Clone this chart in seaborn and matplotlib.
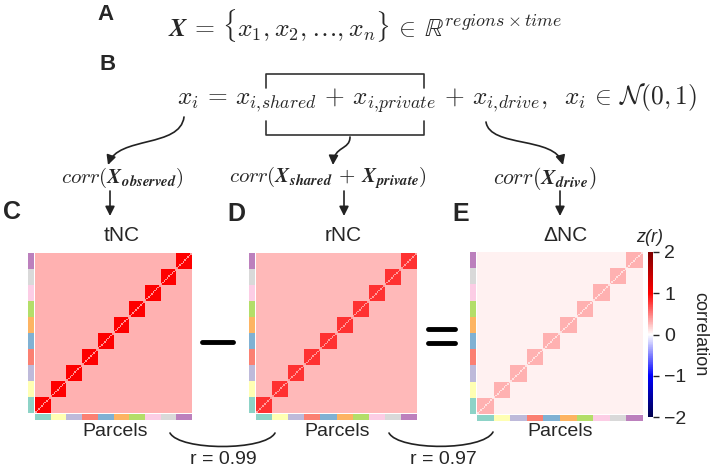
import numpy as np
import matplotlib
matplotlib.use('Agg')
import matplotlib.pyplot as plt
import seaborn as sns
from matplotlib.colors import ListedColormap
from matplotlib.patches import FancyArrowPatch
from matplotlib.path import Path
from matplotlib.lines import Line2D

sns.set_style('white')
plt.rcParams['font.family'] = ['Liberation Sans', 'DejaVu Sans']
plt.rcParams['mathtext.fontset'] = 'cm'

# data: 10 networks, 10 parcels each
n_networks = 10
parcels_per_network = 10
panels = ['tNC', 'rNC', '\u0394NC']
within_block = [1.0, 0.80, 0.30]
between_block = [0.30, 0.27, 0.05]
diagonal = [0.40, 0.38, 0.12]
cbar_ticks = [-2, -1, 0, 1, 2]
r_labels = ['r = 0.99', 'r = 0.97']

W, H = 714, 470
fig = plt.figure(figsize=(W / 100, H / 100), dpi=100)


def fx(x):
    return x / W


def fy(y):
    return 1 - y / H


def box(x0, y0, x1, y1):
    return [fx(x0), fy(y1), fx(x1) - fx(x0), fy(y0) - fy(y1)]


n = n_networks * parcels_per_network
block = np.kron(np.eye(n_networks), np.ones((parcels_per_network, parcels_per_network)))
net_idx = np.repeat(np.arange(n_networks), parcels_per_network)
net_cmap = ListedColormap(sns.color_palette('Set3', n_networks))

# matrix boxes (pixels): left, top, right, bottom
mat_boxes = [(35, 253, 192, 413), (256, 253, 417, 413), (477, 252, 643, 414)]

for k, (x0, y0, x1, y1) in enumerate(mat_boxes):
    M = between_block[k] + (within_block[k] - between_block[k]) * block
    np.fill_diagonal(M, diagonal[k])
    ax = fig.add_axes(box(x0, y0, x1, y1))
    if k == 2:
        cax = fig.add_axes(box(648, 252, 653, 417))
        sns.heatmap(M, ax=ax, cmap='seismic', vmin=-2, vmax=2, cbar=True, cbar_ax=cax,
                    xticklabels=False, yticklabels=False, rasterized=True)
        cb = ax.collections[0].colorbar
        cb.set_ticks(cbar_ticks)
        cb.outline.set_visible(False)
        cax.tick_params(labelsize=14, length=4, width=1, pad=4)
        cb.set_label('correlation', rotation=270, fontsize=13, labelpad=16)
    else:
        sns.heatmap(M, ax=ax, cmap='seismic', vmin=-2, vmax=2, cbar=False,
                    xticklabels=False, yticklabels=False, rasterized=True)
    ax.invert_yaxis()

    # network colour strips
    lax = fig.add_axes(box(x0 - 7, y0, x0 - 1, y1))
    sns.heatmap(net_idx.reshape(-1, 1), ax=lax, cmap=net_cmap, cbar=False,
                xticklabels=False, yticklabels=False, vmin=-0.5, vmax=n_networks - 0.5)
    lax.invert_yaxis()
    bax = fig.add_axes(box(x0, y1 + 1, x1, y1 + 7))
    sns.heatmap(net_idx.reshape(1, -1), ax=bax, cmap=net_cmap, cbar=False,
                xticklabels=False, yticklabels=False, vmin=-0.5, vmax=n_networks - 0.5)

# titles, panel letters, axis labels
title_x = [122, 343, 566]
for k, t in enumerate(panels):
    fig.text(fx(title_x[k]), fy(236), t, ha='center', va='center', fontsize=15)
parcel_x = [115, 337, 560]
for px in parcel_x:
    fig.text(fx(px), fy(432), 'Parcels', ha='center', va='center', fontsize=14)
for lab, (px, py) in zip('CDE', [(12, 212), (236, 214), (461, 214)]):
    fig.text(fx(px), fy(py), lab, ha='center', va='center', fontsize=18, fontweight='bold')
fig.text(fx(106), fy(15), 'A', ha='center', va='center', fontsize=16, fontweight='bold')
fig.text(fx(108), fy(64), 'B', ha='center', va='center', fontsize=16, fontweight='bold')
fig.text(fx(650), fy(237), 'z(r)', ha='center', va='center', fontsize=13, style='italic')

# equations
fig.text(fx(168), fy(25),
         r'$\mathbfit{X} \,=\, \{x_1, x_2, \ldots, x_n\} \,\in\, \mathbb{R}^{regions \times time}$',
         ha='left', va='center', fontsize=18.5)
fig.text(fx(177), fy(98),
         r'$x_i \,=\, x_{i,\!shared} \,+\, x_{i,\!private} \,+\, x_{i,\!drive},\;\; x_i \,\in\, \mathcal{N}(0,1)$',
         ha='left', va='center', fontsize=18.3)
fig.text(fx(122), fy(178), r'$corr(\mathbfit{X}_{\mathbfit{observed}})$', ha='center', va='center', fontsize=15)
fig.text(fx(328), fy(178), r'$corr(\mathbfit{X}_{\mathbfit{shared}} \,+\, \mathbfit{X}_{\mathbfit{private}})$',
         ha='center', va='center', fontsize=15)
fig.text(fx(545), fy(178), r'$corr(\mathbfit{X}_{\mathbfit{drive}})$', ha='center', va='center', fontsize=15.5)

# brackets
for pts in [[(266, 88), (266, 74), (424, 74), (424, 88)],
            [(266, 121), (266, 135), (424, 135), (424, 121)]]:
    xs = [fx(p[0]) for p in pts]
    ys = [fy(p[1]) for p in pts]
    fig.add_artist(Line2D(xs, ys, color='#333333', lw=1.2, transform=fig.transFigure))


def curve(pts, arrow=True):
    verts = [(fx(x), fy(y)) for x, y in pts]
    codes = [Path.MOVETO, Path.CURVE4, Path.CURVE4, Path.CURVE4]
    style = '-|>' if arrow else '-'
    fig.add_artist(FancyArrowPatch(path=Path(verts, codes), arrowstyle=style,
                                   mutation_scale=14, lw=1.2, color='#222222',
                                   transform=fig.transFigure))


curve([(184, 117), (180, 148), (118, 136), (108, 165)])
curve([(350, 137), (350, 150), (334, 146), (333, 165)])
curve([(486, 122), (490, 148), (555, 136), (563, 165)])
for ax_x in [110, 344, 560]:
    fig.add_artist(FancyArrowPatch((fx(ax_x), fy(191)), (fx(ax_x), fy(216)), arrowstyle='-|>',
                                   mutation_scale=14, lw=1.2, color='#222222',
                                   transform=fig.transFigure, shrinkA=0, shrinkB=0))

# minus and equals
fig.add_artist(Line2D([fx(202), fx(233)], [fy(342), fy(342)], color='black', lw=3.5,
                      transform=fig.transFigure))
for yy in [329, 343]:
    fig.add_artist(Line2D([fx(428), fx(455)], [fy(yy), fy(yy)], color='black', lw=3.5,
                          transform=fig.transFigure))

# similarity arcs
curve([(170, 433), (180, 451), (265, 451), (275, 433)], arrow=False)
curve([(389, 433), (399, 451), (483, 451), (493, 432)], arrow=False)
fig.text(fx(223), fy(460), r_labels[0], ha='center', va='center', fontsize=14)
fig.text(fx(443), fy(460), r_labels[1], ha='center', va='center', fontsize=14)

fig.savefig('out.png', dpi=100)
